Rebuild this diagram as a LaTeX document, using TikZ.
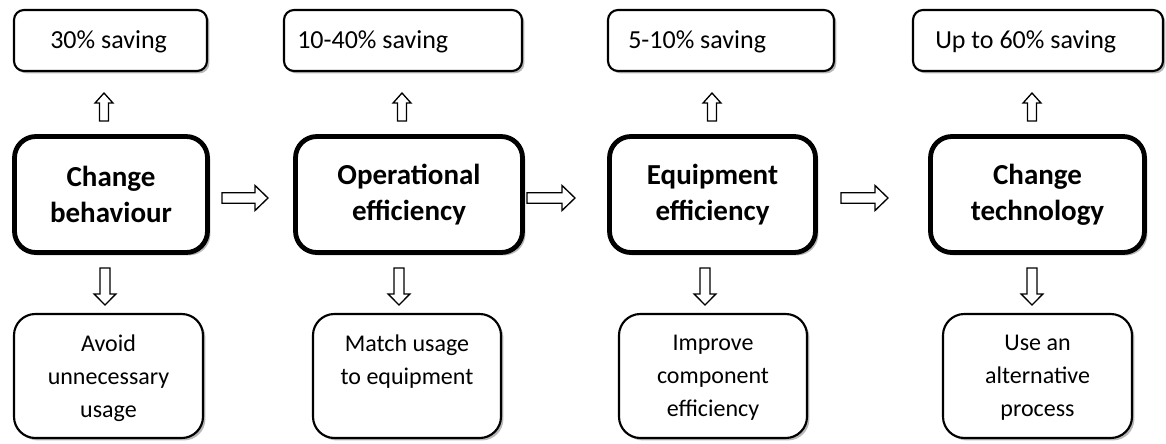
\documentclass[tikz,border=0pt]{standalone}
\usepackage{fontspec}
\setmainfont{Carlito}
\usetikzlibrary{calc,shadows}

% hollow block arrow from #1 (tail) to #2 (tip):
% #3 half shaft width, #4 half head width, #5 head length
\newcommand\blockarrow[5]{%
  \path ($(#2)!#5!(#1)$) coordinate (ba-h);
  \draw[arrowbody] ($(#1)!#3!90:(#2)$) -- ($(ba-h)!#3!90:(#2)$)
    -- ($(ba-h)!#4!90:(#2)$) -- (#2) -- ($(ba-h)!#4!-90:(#2)$)
    -- ($(ba-h)!#3!-90:(#2)$) -- ($(#1)!#3!-90:(#2)$) -- cycle;
}

\begin{document}
\begin{tikzpicture}[x=0.75pt,y=-0.75pt,
  sz/.style 2 args={minimum width=#1*0.75pt, minimum height=#2*0.75pt},
  savebox/.style={draw=black, line width=1.6pt, rounded corners=7.5pt, fill=white,
    inner sep=0pt, drop shadow={shadow xshift=1.8pt, shadow yshift=-1.8pt,
    fill=black!28, opacity=1}},
  stagebox/.style={draw=black, line width=3.6pt, rounded corners=16pt, fill=white,
    inner sep=0pt, align=center, font=\fontsize{21.75}{27}\selectfont\bfseries,
    drop shadow={shadow xshift=2.2pt, shadow yshift=-2.2pt, fill=black!28, opacity=1}},
  actionbox/.style={draw=black, line width=1.6pt, rounded corners=16pt, fill=white,
    inner sep=0pt, drop shadow={shadow xshift=1.8pt, shadow yshift=-1.8pt,
    fill=black!28, opacity=1}},
  savetext/.style={anchor=base west, inner sep=0pt, font=\fontsize{19.5}{23}\selectfont},
  actiontext/.style={anchor=north, inner sep=0pt, align=center,
    font=\fontsize{18}{24.75}\selectfont},
  arrowbody/.style={draw=black, line width=1pt, fill=white, line join=miter}
]
\useasboundingbox (0,0) rectangle (1166,443);

% savings row
\node[savebox, sz={193}{61}] (s1) at (110.5,40.5) {};
\node[savebox, sz={238}{61}] (s2) at (403,40.5) {};
\node[savebox, sz={226}{61}] (s3) at (721,40.5) {};
\node[savebox, sz={250}{61}] (s4) at (1038,40.5) {};
\node[savetext] (s1t) at (50,48) {30\% saving};
\node[savetext] (s2t) at (297,48) {10-40\% saving};
\node[savetext] (s3t) at (628,48) {5-10\% saving};
\node[savetext] (s4t) at (935,48) {Up to 60\% saving};

% stages
\node[stagebox, sz={193}{116}] (m1) at (111,194.5) {Change\\behaviour};
\node[stagebox, sz={227}{116}] (m2) at (409,194.5) {Operational\\efficiency};
\node[stagebox, sz={206}{116}] (m3) at (712.5,194.5) {Equipment\\efficiency};
\node[stagebox, sz={214}{116}] (m4) at (1037.5,194.5) {Change\\technology};

% actions
\node[actionbox, sz={189}{124}] (b1) at (108.5,376) {};
\node[actionbox, sz={188}{124}] (b2) at (407,376) {};
\node[actionbox, sz={188}{124}] (b3) at (713,376) {};
\node[actionbox, sz={189}{124}] (b4) at (1037.5,376) {};
\node[actiontext] (b1t) at (108.5,335) {Avoid\\unnecessary\\usage};
\node[actiontext] (b2t) at (407,335) {Match usage\\to equipment};
\node[actiontext] (b3t) at (713,335) {Improve\\component\\efficiency};
\node[actiontext] (b4t) at (1037.5,335) {Use an\\alternative\\process};

% arrow end points
\coordinate (u1a) at (104,121);  \coordinate (u1b) at (104,93);
\coordinate (u2a) at (402,121);  \coordinate (u2b) at (402,93);
\coordinate (u3a) at (712,121);  \coordinate (u3b) at (712,93);
\coordinate (u4a) at (1032,121); \coordinate (u4b) at (1032,93);
\coordinate (d1a) at (105,268);  \coordinate (d1b) at (105,305);
\coordinate (d2a) at (399,268);  \coordinate (d2b) at (399,305);
\coordinate (d3a) at (705,268);  \coordinate (d3b) at (705,305);
\coordinate (d4a) at (1032,268); \coordinate (d4b) at (1032,305);
\coordinate (r1a) at (222,198);  \coordinate (r1b) at (268,198);
\coordinate (r2a) at (527,198);  \coordinate (r2b) at (575,198);
\coordinate (r3a) at (841,198);  \coordinate (r3b) at (888,198);

% stage -> saving
\blockarrow{u1a}{u1b}{3.4pt}{6.7pt}{7.5pt}
\blockarrow{u2a}{u2b}{3.4pt}{6.7pt}{7.5pt}
\blockarrow{u3a}{u3b}{3.4pt}{6.7pt}{7.5pt}
\blockarrow{u4a}{u4b}{3.4pt}{6.7pt}{7.5pt}
% stage -> action
\blockarrow{d1a}{d1b}{3.75pt}{8.1pt}{8.2pt}
\blockarrow{d2a}{d2b}{3.75pt}{8.1pt}{8.2pt}
\blockarrow{d3a}{d3b}{3.75pt}{8.1pt}{8.2pt}
\blockarrow{d4a}{d4b}{3.75pt}{8.1pt}{8.2pt}
% stage -> next stage
\blockarrow{r1a}{r1b}{3.9pt}{9.4pt}{9.75pt}
\blockarrow{r2a}{r2b}{3.9pt}{9.4pt}{9.75pt}
\blockarrow{r3a}{r3b}{3.9pt}{9.4pt}{9.75pt}
\end{tikzpicture}
\end{document}
